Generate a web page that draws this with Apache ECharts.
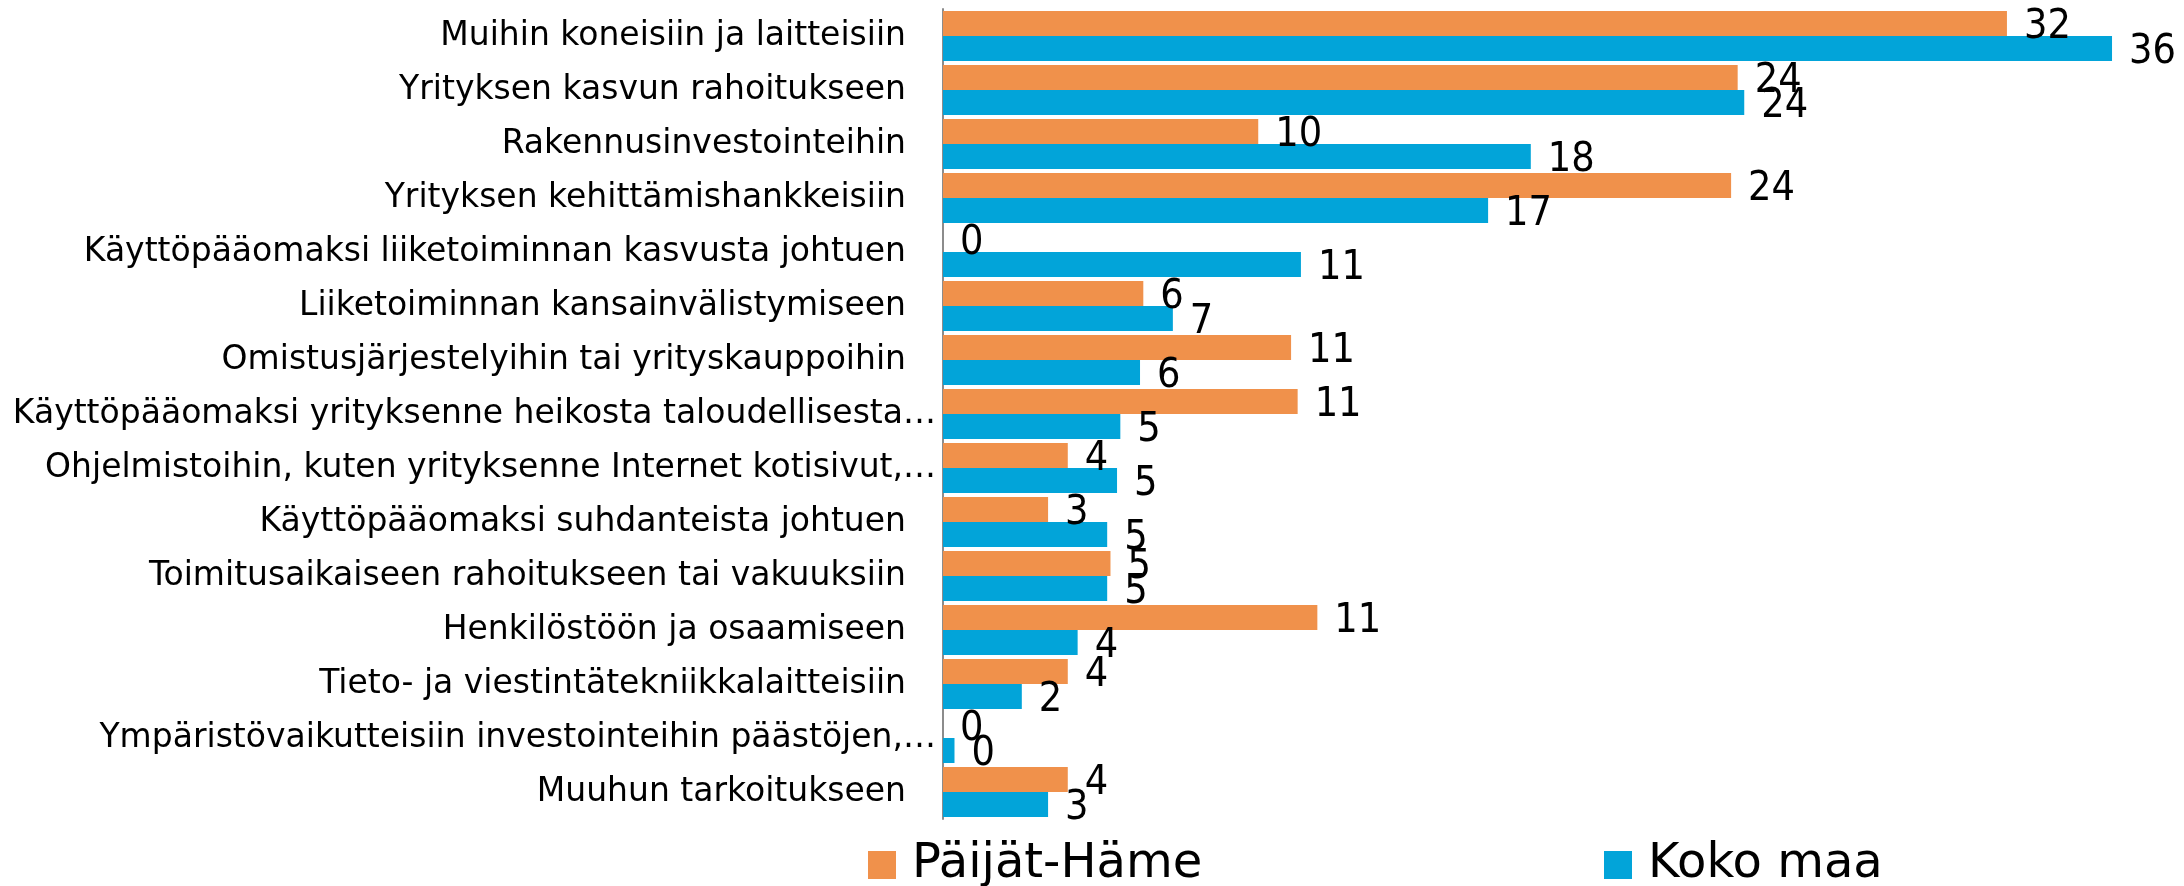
<!DOCTYPE html>
<html>
<head>
<meta charset="utf-8">
<script src="https://cdn.jsdelivr.net/npm/echarts@6/dist/echarts.min.js"></script>
<style>
  html, body { margin: 0; padding: 0; background: #fff; }
  #chart { width: 2184px; height: 886px; }
</style>
</head>
<body>
<div id="chart"></div>
<script>
// categories top to bottom
var categories = [
  "Muihin koneisiin ja laitteisiin",
  "Yrityksen kasvun rahoitukseen",
  "Rakennusinvestointeihin",
  "Yrityksen kehittämishankkeisiin",
  "Käyttöpääomaksi liiketoiminnan kasvusta johtuen",
  "Liiketoiminnan kansainvälistymiseen",
  "Omistusjärjestelyihin tai yrityskauppoihin",
  "Käyttöpääomaksi yrityksenne heikosta taloudellisesta…",
  "Ohjelmistoihin, kuten yrityksenne Internet kotisivut,…",
  "Käyttöpääomaksi suhdanteista johtuen",
  "Toimitusaikaiseen rahoitukseen tai vakuuksiin",
  "Henkilöstöön ja osaamiseen",
  "Tieto- ja viestintätekniikkalaitteisiin",
  "Ympäristövaikutteisiin investointeihin päästöjen,…",
  "Muuhun tarkoitukseen"
];
var seriesNames = ["Päijät-Häme", "Koko maa"];
// values (labels show them rounded)
var paijatHame = [32.4, 24.2, 9.6, 24.0, 0, 6.1, 10.6, 10.8, 3.8, 3.2, 5.1, 11.4, 3.8, 0, 3.8];
var kokoMaa = [35.6, 24.4, 17.9, 16.6, 10.9, 7.0, 6.0, 5.4, 5.3, 5.0, 5.0, 4.1, 2.4, 0.35, 3.2];

var colors = ["#F0914B", "#02A4D9"];
var font = "DejaVu Sans";

var chart = echarts.init(document.getElementById("chart"));

function barLabel() {
  return {
    show: true,
    position: "right",
    distance: 17,
    offset: [0, 4],
    color: "#000",
    fontSize: 41,
    fontFamily: "DejaVu Sans Condensed",
    formatter: function (p) { return Math.round(p.value); }
  };
}

function legendItem(name, left) {
  return {
    data: [name],
    left: left,
    top: 841,
    padding: 0,
    icon: "rect",
    itemWidth: 28,
    itemHeight: 28,
    textStyle: { fontSize: 48, fontFamily: font, color: "#000", padding: [0, 0, 0, 11] }
  };
}

var option = {
  backgroundColor: "#fff",
  animation: false,
  grid: {
    left: 943,
    top: 9,
    width: 1215,
    height: 810,
    outerBoundsMode: "none"
  },
  xAxis: {
    type: "value",
    min: 0,
    max: 37,
    show: false
  },
  yAxis: {
    type: "category",
    data: categories,
    inverse: true,
    axisLine: { show: true, lineStyle: { color: "#8c8c8c", width: 2 } },
    axisTick: { show: false },
    splitLine: { show: false },
    axisLabel: {
      margin: 37,
      color: "#000",
      fontSize: 33,
      fontFamily: font,
      formatter: function (v) {
        // ellipsis hangs past the right edge like the original
        if (v.charAt(v.length - 1) === "…") {
          return "{t|" + v.slice(0, -1) + "}{e|…}";
        }
        return v;
      },
      rich: {
        t: { fontSize: 33, fontFamily: font, color: "#000" },
        e: { fontSize: 33, fontFamily: font, color: "#000", padding: [0, -30, 0, 0] }
      }
    }
  },
  legend: [
    legendItem(seriesNames[0], 868),
    legendItem(seriesNames[1], 1604)
  ],
  series: [
    {
      name: seriesNames[0],
      type: "bar",
      data: paijatHame,
      barWidth: 25,
      barGap: "0%",
      itemStyle: { color: colors[0] },
      label: barLabel()
    },
    {
      name: seriesNames[1],
      type: "bar",
      data: kokoMaa,
      barWidth: 25,
      barGap: "0%",
      itemStyle: { color: colors[1] },
      label: barLabel()
    }
  ]
};

chart.setOption(option);
</script>
</body>
</html>
